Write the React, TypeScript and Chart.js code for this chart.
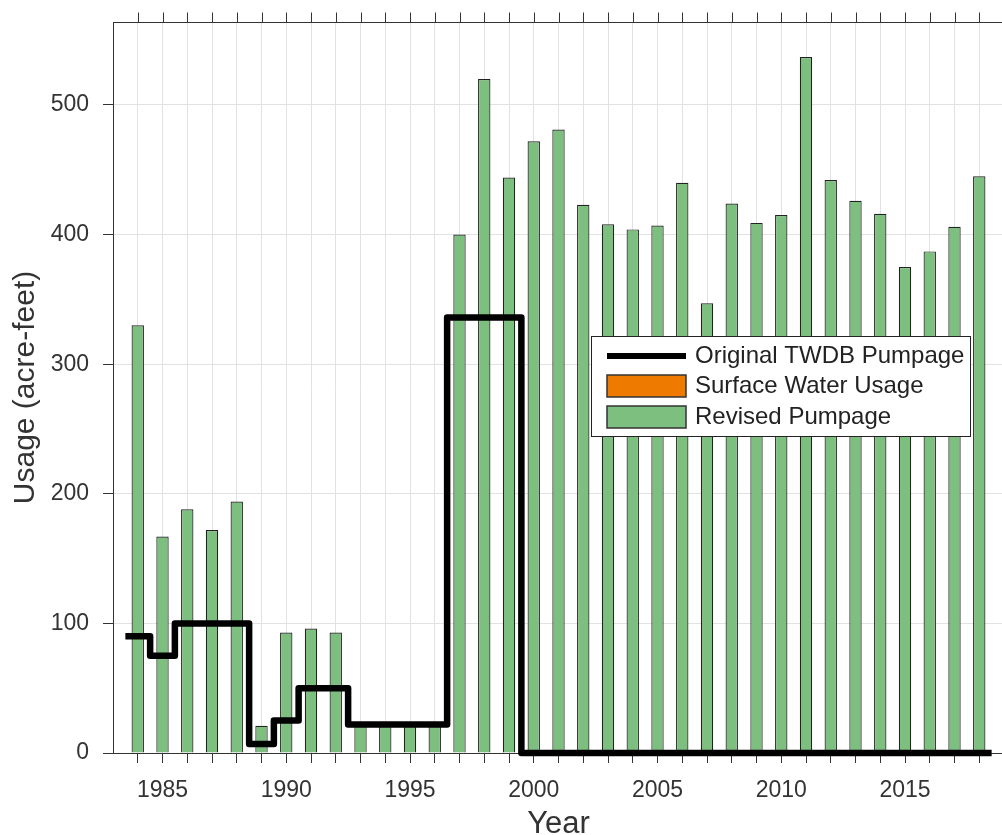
import React, { useEffect, useRef } from 'react';
import { Chart, registerables } from 'chart.js';

Chart.register(...registerables);

// ---- data ----
const years = [
  1984, 1985, 1986, 1987, 1988, 1989, 1990, 1991, 1992, 1993, 1994, 1995,
  1996, 1997, 1998, 1999, 2000, 2001, 2002, 2003, 2004, 2005, 2006, 2007,
  2008, 2009, 2010, 2011, 2012, 2013, 2014, 2015, 2016, 2017, 2018,
];

const revisedPumpage = [
  330, 167, 188, 172, 194, 21, 93, 96, 93, 22, 22, 22,
  22, 400, 520, 444, 472, 481, 423, 408, 404, 407, 440, 347,
  424, 409, 415, 537, 442, 426, 416, 375, 387, 406, 445,
];

const surfaceWaterUsage = [
  0, 0, 0, 0, 0, 0, 0, 0, 0, 0, 0, 0,
  0, 0, 0, 0, 0, 0, 0, 0, 0, 0, 0, 0,
  0, 0, 0, 0, 0, 0, 0, 0, 0, 0, 0,
];

const originalTwdb = [
  90, 75, 100, 100, 100, 7, 25, 50, 50, 22, 22, 22,
  22, 336, 336, 336, 0, 0, 0, 0, 0, 0, 0, 0,
  0, 0, 0, 0, 0, 0, 0, 0, 0, 0, 0,
];

const yTickValues = [0, 100, 200, 300, 400, 500];
const xLabelYears = [1985, 1990, 1995, 2000, 2005, 2010, 2015];

const seriesLabels = ['Original TWDB Pumpage', 'Surface Water Usage', 'Revised Pumpage'];

// ---- styles ----
const FONT = '"Liberation Sans", Arial, Helvetica, sans-serif';
const TEXT = '#333333';
const AXIS = '#333333';
const GRID = '#e2e2e2';
const GREEN = '#7dbf7f';
const ORANGE = '#ee7a00';

const frameTicksPlugin = {
  id: 'frameTicks',
  afterDraw(chart: any) {
    const { ctx, chartArea } = chart;
    const xs = chart.scales.x;
    ctx.save();
    ctx.strokeStyle = AXIS;
    ctx.lineWidth = 1;
    ctx.beginPath();
    const t = Math.round(chartArea.top) + 0.5;
    ctx.moveTo(chartArea.left, t);
    ctx.lineTo(chartArea.right, t);
    const r = Math.round(chartArea.right) - 0.5;
    ctx.moveTo(r, chartArea.top);
    ctx.lineTo(r, chartArea.bottom);
    xs.ticks.forEach((tk: any) => {
      const px = Math.round(xs.getPixelForValue(tk.value)) + 0.5;
      ctx.moveTo(px, t);
      ctx.lineTo(px, t - 10);
    });
    ctx.stroke();
    ctx.restore();
  },
};

const boxLegendPlugin = {
  id: 'boxLegend',
  afterDatasetsDraw(chart: any) {
    const { ctx } = chart;
    const bx = 591.5, by = 336.5, bw = 379, bh = 100;
    ctx.save();
    ctx.fillStyle = '#ffffff';
    ctx.fillRect(bx, by, bw, bh);
    ctx.strokeStyle = '#222222';
    ctx.lineWidth = 1;
    ctx.strokeRect(bx, by, bw, bh);
    const rows = [356, 386, 417];
    const sx = 607, sw = 79;
    chart.data.datasets.forEach((ds: any, i: number) => {
      const cy = rows[i];
      if (ds.type === 'line') {
        ctx.strokeStyle = ds.borderColor;
        ctx.lineWidth = 6;
        ctx.beginPath();
        ctx.moveTo(sx, cy);
        ctx.lineTo(sx + sw, cy);
        ctx.stroke();
      } else {
        ctx.fillStyle = ds.backgroundColor;
        ctx.fillRect(sx, cy - 11, sw, 22);
        ctx.strokeStyle = '#333333';
        ctx.lineWidth = 1.5;
        ctx.strokeRect(sx, cy - 11, sw, 22);
      }
      ctx.fillStyle = '#222222';
      ctx.font = `24px ${FONT}`;
      ctx.textBaseline = 'middle';
      ctx.textAlign = 'left';
      ctx.fillText(ds.label, 695, cy);
    });
    ctx.restore();
  },
};

export default function App() {
  const canvasRef = useRef<HTMLCanvasElement | null>(null);

  useEffect(() => {
    const canvas = canvasRef.current;
    if (!canvas) return;

    const stairs = years
      .map((yr, i) => ({ x: yr - 0.5, y: originalTwdb[i] }))
      .concat([{ x: years[years.length - 1] + 0.5, y: originalTwdb[originalTwdb.length - 1] }]);

    const chart = new Chart(canvas, {
      type: 'bar',
      data: {
        datasets: [
          {
            type: 'line',
            label: seriesLabels[0],
            data: stairs,
            borderColor: '#000000',
            backgroundColor: '#000000',
            borderWidth: 6.5,
            stepped: 'before',
            pointRadius: 0,
            borderJoinStyle: 'round',
            borderCapStyle: 'butt',
            clip: false,
            order: 0,
          } as any,
          {
            type: 'bar',
            label: seriesLabels[1],
            data: years.map((yr, i) => ({ x: yr, y: surfaceWaterUsage[i] })),
            backgroundColor: ORANGE,
            borderColor: '#333333',
            borderWidth: 0,
            grouped: false,
            barPercentage: 0.5,
            categoryPercentage: 1,
            order: 2,
          } as any,
          {
            type: 'bar',
            label: seriesLabels[2],
            data: years.map((yr, i) => ({ x: yr, y: revisedPumpage[i] })),
            backgroundColor: GREEN,
            borderColor: '#222222',
            borderWidth: 1.2,
            barPercentage: 0.5,
            categoryPercentage: 1,
            order: 1,
          } as any,
        ],
      },
      options: {
        animation: false,
        responsive: false,
        devicePixelRatio: 1,
        layout: { padding: { top: 22, right: 2, left: 0, bottom: 0 } },
        plugins: {
          legend: { display: false },
          tooltip: { enabled: false },
        },
        scales: {
          x: {
            type: 'linear',
            min: 1983,
            max: 2019,
            offset: false,
            afterBuildTicks: (s: any) => {
              s.ticks = years.map((v) => ({ value: v }));
            },
            afterFit: (s: any) => {
              s.height = 82;
              s.paddingLeft = 0;
              s.paddingRight = 0;
            },
            ticks: {
              autoSkip: false,
              maxRotation: 0,
              minRotation: 0,
              padding: 14,
              color: TEXT,
              font: { family: FONT, size: 23 },
              callback: (v: any) => (xLabelYears.includes(Number(v)) ? String(v) : ''),
            },
            grid: {
              color: GRID,
              tickColor: AXIS,
              tickLength: 10,
              offset: false,
              lineWidth: 1,
            },
            border: { display: true, color: AXIS, width: 1 },
            title: {
              display: true,
              text: 'Year',
              color: TEXT,
              font: { family: FONT, size: 31, lineHeight: 1 },
              padding: { top: 0, bottom: -5 },
            },
          },
          y: {
            type: 'linear',
            min: 0,
            max: 564,
            afterBuildTicks: (s: any) => {
              s.ticks = yTickValues.map((v) => ({ value: v }));
            },
            afterFit: (s: any) => {
              s.width = 113;
              s.paddingTop = 0;
              s.paddingBottom = 0;
            },
            ticks: {
              padding: 14,
              color: TEXT,
              font: { family: FONT, size: 23 },
            },
            grid: {
              color: GRID,
              tickColor: AXIS,
              tickLength: 10,
              lineWidth: 1,
            },
            border: { display: true, color: AXIS, width: 1 },
            title: {
              display: true,
              text: 'Usage (acre-feet)',
              color: TEXT,
              font: { family: FONT, size: 30, lineHeight: 1.2 },
              padding: { top: 8, bottom: 0 },
            },
          },
        },
      },
      plugins: [frameTicksPlugin, boxLegendPlugin],
    });

    return () => {
      chart.destroy();
    };
  }, []);

  return (
    <div
      style={{
        position: 'fixed',
        left: 0,
        top: 0,
        width: 1002,
        height: 835,
        overflow: 'hidden',
        background: '#ffffff',
      }}
    >
      <canvas ref={canvasRef} width={1006} height={835} style={{ display: 'block' }} />
    </div>
  );
}
